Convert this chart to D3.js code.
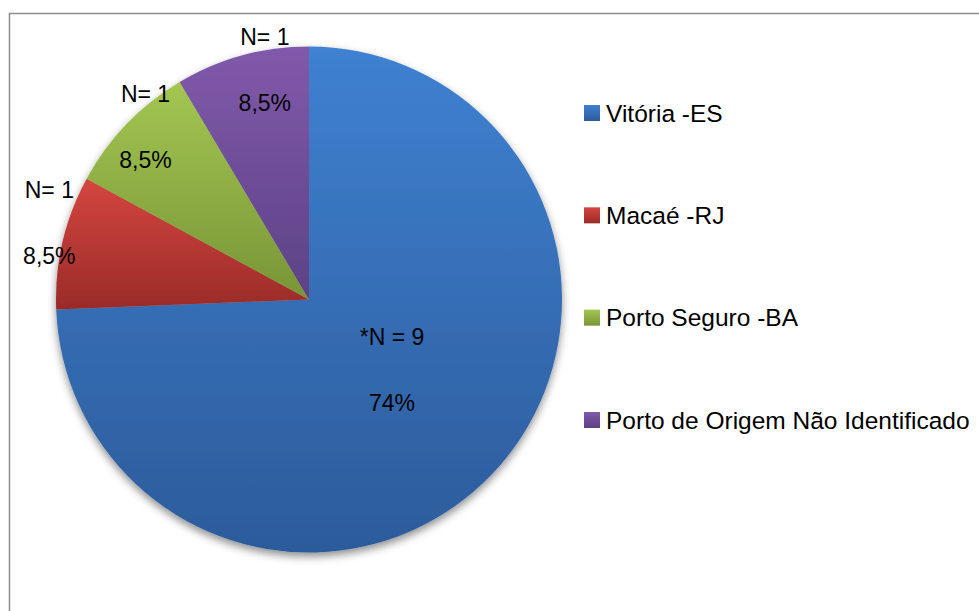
<!DOCTYPE html>
<html>
<head>
<meta charset="utf-8">
<script src="https://cdn.jsdelivr.net/npm/d3@7"></script>
<style>
  body { margin: 0; background: #fff; }
  svg { display: block; font-family: "Liberation Sans", Arial, sans-serif; }
</style>
</head>
<body>
<svg id="canvas" width="979" height="611"></svg>
<script>
let categories = ["Vitória -ES", "Macaé -RJ", "Porto Seguro -BA", "Porto de Origem Não Identificado"]
let values = [74, 8.5, 8.5, 8.5]
let countLabels = ["*N = 9", "N= 1", "N= 1", "N= 1"]
let pctLabels = ["74%", "8,5%", "8,5%", "8,5%"]

let topColors = ["#3f81d1", "#d4463f", "#a3c652", "#8159ab"]
let bottomColors = ["#2c5b9a", "#9a2b28", "#789536", "#5c4285"]

let width = 979
let height = 611
let cx = 309
let cy = 299.5
let radius = 253
// label block placement: share of radius and a small turn (degrees) off the mid angle
let labelFactor = [0.43, 1.07, 0.94, 0.925]
let labelTurn = [-3.6, 3.3, 2.7, 4.5]

let canvas = d3.select("#canvas")

let defs = canvas.append("defs")

let shadow = defs.append("filter")
    .attr("id", "shadow")
    .attr("x", "-20%").attr("y", "-20%")
    .attr("width", "140%").attr("height", "140%")
shadow.append("feDropShadow")
    .attr("dx", 0).attr("dy", 4)
    .attr("stdDeviation", 4)
    .attr("flood-color", "#000")
    .attr("flood-opacity", 0.45)

categories.forEach((c, i) => {
    let g = defs.append("linearGradient")
        .attr("id", "grad" + i)
        .attr("x1", 0).attr("y1", 0)
        .attr("x2", 0).attr("y2", 1)
    g.append("stop").attr("offset", "0%").attr("stop-color", topColors[i])
    g.append("stop").attr("offset", "100%").attr("stop-color", bottomColors[i])
})

// chart frame
canvas.append("rect")
    .attr("x", 9.5)
    .attr("y", 13.5)
    .attr("width", 1000)
    .attr("height", 700)
    .attr("fill", "none")
    .attr("stroke", "#8c8c8c")
    .attr("stroke-width", 1.5)

let pie = d3.pie().sort(null).value(d => d)
let arcs = pie(values)

let arc = d3.arc().innerRadius(0).outerRadius(radius)

let pieGroup = canvas.append("g")
    .attr("transform", "translate(" + cx + "," + cy + ")")

pieGroup.append("g")
    .attr("filter", "url(#shadow)")
    .selectAll("path")
    .data(arcs)
    .enter()
    .append("path")
    .attr("d", arc)
    .attr("fill", (d, i) => "url(#grad" + i + ")")

let labels = pieGroup.selectAll(".label")
    .data(arcs)
    .enter()
    .append("g")
    .attr("class", "label")
    .attr("transform", (d, i) => {
        let a = (d.startAngle + d.endAngle) / 2 + labelTurn[i] * Math.PI / 180
        let r = radius * labelFactor[i]
        return "translate(" + (Math.sin(a) * r) + "," + (-Math.cos(a) * r) + ")"
    })

labels.append("text")
    .attr("y", -33)
    .attr("text-anchor", "middle")
    .attr("dominant-baseline", "central")
    .style("font-size", "23px")
    .attr("fill", "#000")
    .text((d, i) => countLabels[i])

labels.append("text")
    .attr("y", 33)
    .attr("text-anchor", "middle")
    .attr("dominant-baseline", "central")
    .style("font-size", "23px")
    .attr("fill", "#000")
    .text((d, i) => pctLabels[i])

// legend
let legendY = d3.scalePoint()
    .domain(categories)
    .range([113, 420])

let legend = canvas.append("g").attr("id", "legend")

let items = legend.selectAll("g")
    .data(categories)
    .enter()
    .append("g")
    .attr("transform", d => "translate(584," + legendY(d) + ")")

items.append("rect")
    .attr("x", 0)
    .attr("y", -8)
    .attr("width", 16)
    .attr("height", 16)
    .attr("fill", (d, i) => "url(#grad" + i + ")")

items.append("text")
    .attr("x", 22)
    .attr("y", 0)
    .attr("dominant-baseline", "central")
    .style("font-size", "24.5px")
    .attr("fill", "#000")
    .text(d => d)
</script>
</body>
</html>
